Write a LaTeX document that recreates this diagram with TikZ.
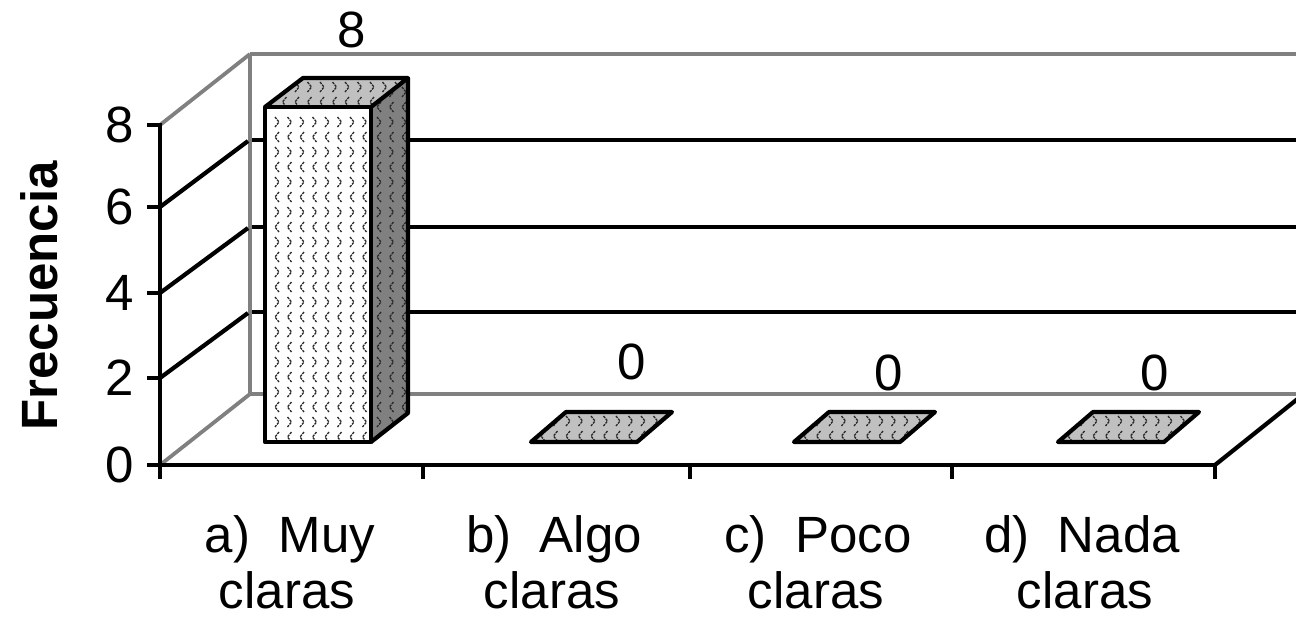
\documentclass[tikz,border=0pt]{standalone}
\usepackage{fontspec}
\setmainfont{Liberation Sans}
\definecolor{wallgray}{RGB}{128,128,128}
\definecolor{topgray}{RGB}{192,192,192}
\definecolor{sidegray}{RGB}{128,128,128}
\definecolor{chevdark}{RGB}{40,40,40}
\newcommand\chevgrid[4]{% x0, y0, ncols, nrows
  \foreach \ci in {0,...,#3}{%
    \foreach \rj in {0,...,#4}{%
      \ifodd\rj
        \draw[chev] ({#1+\ci*12.5+2},{#2+\rj*15-5}) -- ++(-4,5) -- ++(4,5);
      \else
        \draw[chev] ({#1+\ci*12.5-2},{#2+\rj*15-5}) -- ++(4,5) -- ++(-4,5);
      \fi
    }%
  }%
}
\begin{document}
\begin{tikzpicture}[x=1pt,y=-1pt,
  gridline/.style={line width=4.2pt,black},
  wall/.style={line width=3.8pt,wallgray},
  axisline/.style={line width=4.2pt,black},
  barline/.style={line width=4.2pt,black,line join=round},
  chev/.style={line width=1.3pt,chevdark,dash pattern=on 2.5pt off 1pt},
  lbl/.style={font=\fontsize{51}{56}\selectfont,inner sep=0pt},
  ylab/.style={font=\bfseries\fontsize{51}{56}\selectfont,inner sep=0pt}
]
\useasboundingbox (0,0) rectangle (1296,622);
\begin{scope}
\clip (0,0) rectangle (1296,622);
% back wall
\coordinate (bw8) at (250,54);
\coordinate (bw6) at (250,140);
\coordinate (bw4) at (250,227);
\coordinate (bw2) at (250,312);
\coordinate (bw0) at (250,394);
\coordinate (fa8) at (160,125);
\coordinate (fa6) at (160,207);
\coordinate (fa4) at (160,293);
\coordinate (fa2) at (160,378);
\coordinate (fa0) at (160,465);
\coordinate (fr0) at (1215,465);
\coordinate (frb) at (1305,393);
\draw[gridline] (bw6) -- (1300,140);
\draw[gridline] (bw4) -- (1300,227);
\draw[gridline] (bw2) -- (1300,312);
\draw[wall] (bw0) -- (1300,394);
\draw[wall] (bw8) -- (1300,54);
\draw[wall] (bw8) -- (bw0);
% side wall diagonals
\draw[wall] (fa8) -- (bw8);
\draw[wall] (fa0) -- (bw0);
\draw[gridline] (fa6) -- (248,141);
\draw[gridline] (fa4) -- (248,228);
\draw[gridline] (fa2) -- (248,313);
% front axis
\draw[axisline] (160,123) -- (160,479);
\foreach \yy in {125,207,293,378,465}
  \draw[axisline] (147,\yy) -- (160,\yy);
\draw[axisline] (147,465) -- (fr0);
\foreach \xx in {160,423,690,952,1215}
  \draw[axisline] (\xx,465) -- (\xx,479);
\draw[axisline] (fr0) -- (frb);
% bar 1 (value 8)
\fill[white] (265,107) rectangle (371,442);
\fill[topgray] (265,107) -- (371,107) -- (408,78) -- (303,78) -- cycle;
\fill[sidegray] (371,107) -- (408,78) -- (408,413) -- (371,442) -- cycle;
\begin{scope}
\clip (265,107) rectangle (371,442);
\chevgrid{277}{122}{8}{21}
\end{scope}
\begin{scope}
\clip (265,107) -- (371,107) -- (408,78) -- (303,78) -- cycle;
\chevgrid{272}{87}{11}{1}
\end{scope}
\begin{scope}
\clip (371,107) -- (408,78) -- (408,413) -- (371,442) -- cycle;
\chevgrid{379}{92}{2}{23}
\end{scope}
\draw[barline] (265,107) rectangle (371,442);
\draw[barline] (265,107) -- (303,78) -- (408,78) -- (371,107);
\draw[barline] (408,78) -- (408,413) -- (371,442);
% flat bars (value 0)
\foreach \bx/\nm in {531/b,794/c,1058/d}{
  \fill[topgray] (\bx,442) -- ++(106,0) -- ++(35,-30) -- ++(-106,0) -- cycle;
  \begin{scope}
    \clip (\bx,442) -- ++(106,0) -- ++(35,-30) -- ++(-106,0) -- cycle;
    \chevgrid{\bx+12}{421}{10}{1}
  \end{scope}
  \draw[barline] (\bx,442) -- ++(106,0) -- ++(35,-30) -- ++(-106,0) -- cycle;
}
\end{scope}
% data labels
\node[lbl] (v1) at (352,30) {8};
\node[lbl] (v2) at (632,362) {0};
\node[lbl] (v3) at (889,373) {0};
\node[lbl] (v4) at (1155,373) {0};
% tick labels
\node[lbl,anchor=east] (t8) at (134,125) {8};
\node[lbl,anchor=east] (t6) at (134,207) {6};
\node[lbl,anchor=east] (t4) at (134,293) {4};
\node[lbl,anchor=east] (t2) at (134,378) {2};
\node[lbl,anchor=east] (t0) at (134,465) {0};
% category labels
\node[lbl,anchor=base] (ca1) at (290,552) {a)\ \ Muy};
\node[lbl,anchor=base] (ca2) at (287,608) {claras};
\node[lbl,anchor=base] (cb1) at (554,552) {b)\ \ Algo};
\node[lbl,anchor=base] (cb2) at (552,608) {claras};
\node[lbl,anchor=base] (cc1) at (818,552) {c)\ \ Poco};
\node[lbl,anchor=base] (cc2) at (816,608) {claras};
\node[lbl,anchor=base] (cd1) at (1082,552) {d)\ \ Nada};
\node[lbl,anchor=base] (cd2) at (1085,608) {claras};
% axis title
\node[ylab,rotate=90] (ytitle) at (39,296) {Frecuencia};
\end{tikzpicture}
\end{document}
